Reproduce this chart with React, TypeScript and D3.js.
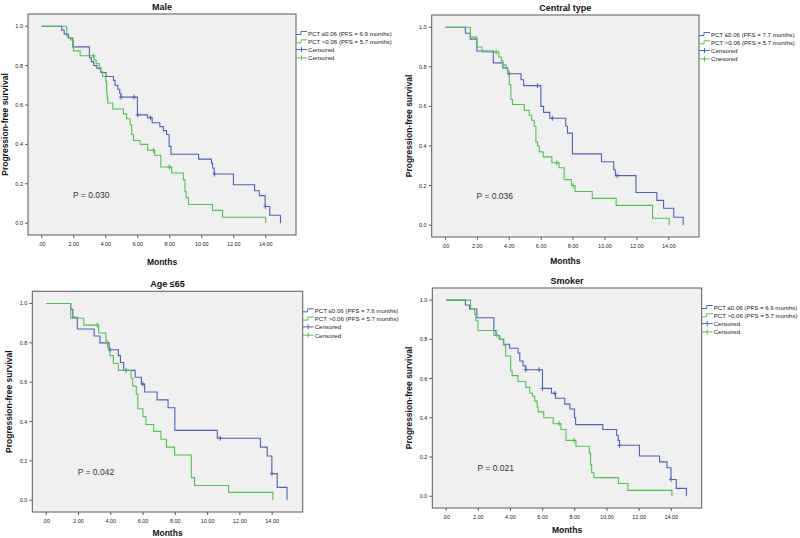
import React from 'react';
import * as d3 from 'd3';

type Pt = [number, number];

// axis ticks
const xTicks = [0, 2, 4, 6, 8, 10, 12, 14];
const yTicks = [0, 0.2, 0.4, 0.6, 0.8, 1.0];

const panelTitles = ['Male', 'Central type', 'Age ≤65', 'Smoker'];
const lowPfs = [6.9, 7.7, 7.6, 6.9];
const highPfs = [5.7, 5.7, 5.7, 5.7];
const pValues = ['0.030', '0.036', '0.042', '0.021'];
const greenCensorLabels = ['Censored', 'Cnesored', 'Censored', 'Censored'];

// Male: [months, survival] after each drop
const maleLow: Pt[] = [
  [1.25, 0.98], [1.4, 0.96], [1.65, 0.94], [1.94, 0.895], [2.98, 0.84], [3.1, 0.82], [3.25, 0.8],
  [3.45, 0.785], [3.69, 0.765], [4.02, 0.745], [4.48, 0.725], [4.58, 0.7], [4.75, 0.68], [4.87, 0.66],
  [4.95, 0.64], [5.98, 0.55], [6.6, 0.535], [6.9, 0.51], [7.38, 0.49], [7.6, 0.47], [7.8, 0.45],
  [7.96, 0.39], [8.08, 0.35], [9.8, 0.325], [10.6, 0.305], [10.68, 0.28], [10.77, 0.25], [11.98, 0.195],
  [13.3, 0.165], [13.6, 0.14], [13.96, 0.085], [14.25, 0.04], [14.92, 0.0],
];
const maleHigh: Pt[] = [
  [1.56, 0.95], [1.7, 0.94], [1.8, 0.93], [1.98, 0.875], [2.4, 0.85], [3.28, 0.83], [3.4, 0.81],
  [3.6, 0.79], [3.68, 0.77], [3.8, 0.745], [4.0, 0.72], [4.05, 0.67], [4.08, 0.64], [4.12, 0.61],
  [4.44, 0.58], [5.1, 0.555], [5.3, 0.53], [5.52, 0.5], [5.62, 0.45], [5.73, 0.42], [6.15, 0.4],
  [6.62, 0.37], [7.05, 0.345], [7.44, 0.285], [8.12, 0.255], [8.85, 0.22], [8.95, 0.16], [9.02, 0.13],
  [9.17, 0.095], [10.67, 0.065], [11.3, 0.03], [14.0, 0.0],
];
const maleLowCensor: Pt[] = [[4.95, 0.64], [5.77, 0.64], [6.0, 0.55], [6.8, 0.535], [10.8, 0.25], [13.98, 0.085]];
const maleHighCensor: Pt[] = [[3.23, 0.85], [6.98, 0.37], [7.98, 0.285]];

// Central type
const centralLow: Pt[] = [
  [1.25, 0.97], [1.56, 0.94], [1.97, 0.88], [3.0, 0.82], [3.6, 0.795], [3.9, 0.765], [4.74, 0.735],
  [4.9, 0.705], [5.98, 0.6], [6.15, 0.57], [6.54, 0.54], [7.54, 0.5], [7.65, 0.465], [7.96, 0.36],
  [9.78, 0.32], [10.55, 0.28], [10.65, 0.25], [11.94, 0.165], [13.25, 0.125], [13.67, 0.085],
  [14.31, 0.04], [14.9, 0.0],
];
const centralHigh: Pt[] = [
  [1.56, 0.95], [1.97, 0.9], [2.3, 0.875], [3.35, 0.85], [3.5, 0.83], [3.6, 0.81], [3.8, 0.79],
  [3.9, 0.765], [4.0, 0.71], [4.1, 0.635], [4.2, 0.61], [4.94, 0.58], [5.25, 0.555], [5.4, 0.53],
  [5.57, 0.5], [5.67, 0.42], [5.77, 0.4], [5.88, 0.37], [6.13, 0.345], [6.67, 0.315], [7.12, 0.29],
  [7.44, 0.23], [7.9, 0.2], [8.12, 0.17], [9.2, 0.135], [10.7, 0.1], [12.98, 0.035], [14.02, 0.0],
];
const centralLowCensor: Pt[] = [[4.0, 0.765], [5.77, 0.705], [6.7, 0.54], [10.76, 0.25]];
const centralHighCensor: Pt[] = [[3.18, 0.875], [6.98, 0.315], [8.0, 0.2]];

// Age <= 65
const ageLow: Pt[] = [
  [1.52, 0.97], [1.65, 0.93], [1.93, 0.87], [2.97, 0.835], [3.33, 0.8], [3.9, 0.765], [4.47, 0.735],
  [4.6, 0.7], [4.8, 0.66], [5.51, 0.625], [5.9, 0.59], [6.1, 0.55], [6.87, 0.51], [7.55, 0.47],
  [7.97, 0.355], [10.6, 0.315], [13.27, 0.27], [13.69, 0.225], [13.98, 0.135], [14.31, 0.065],
  [14.92, 0.0],
];
const ageHigh: Pt[] = [
  [1.52, 0.925], [2.33, 0.89], [3.25, 0.85], [3.7, 0.81], [3.8, 0.775], [3.95, 0.735], [4.16, 0.695],
  [4.47, 0.66], [5.26, 0.62], [5.36, 0.58], [5.58, 0.54], [5.68, 0.465], [5.99, 0.425], [6.18, 0.385],
  [6.66, 0.35], [7.11, 0.31], [7.45, 0.27], [7.95, 0.23], [8.99, 0.115], [9.19, 0.075], [11.3, 0.04],
  [14.04, 0.0],
];
const ageLowCensor: Pt[] = [[3.95, 0.765], [4.95, 0.66], [5.99, 0.59], [10.78, 0.315], [13.98, 0.135]];
const ageHighCensor: Pt[] = [[3.16, 0.89]];

// Smoker
const smokerLow: Pt[] = [
  [1.2, 0.975], [1.46, 0.955], [1.91, 0.91], [2.97, 0.845], [3.1, 0.82], [3.33, 0.8], [3.58, 0.775],
  [3.95, 0.755], [4.47, 0.73], [4.58, 0.69], [4.78, 0.665], [4.95, 0.645], [5.99, 0.55], [6.55, 0.525],
  [6.8, 0.5], [7.38, 0.47], [7.7, 0.445], [7.98, 0.4], [8.05, 0.365], [9.74, 0.34], [10.6, 0.31],
  [10.7, 0.285], [10.78, 0.26], [12.02, 0.205], [13.27, 0.175], [13.73, 0.145], [13.98, 0.085],
  [14.31, 0.04], [14.94, 0.0],
];
const smokerHigh: Pt[] = [
  [1.52, 0.955], [1.77, 0.93], [1.85, 0.895], [1.98, 0.845], [2.97, 0.82], [3.29, 0.8], [3.55, 0.77],
  [3.7, 0.715], [4.01, 0.64], [4.1, 0.615], [4.47, 0.585], [4.95, 0.555], [5.2, 0.525], [5.37, 0.51],
  [5.51, 0.485], [5.66, 0.455], [5.72, 0.43], [6.07, 0.4], [6.66, 0.37], [7.14, 0.34], [7.45, 0.285],
  [8.07, 0.255], [8.9, 0.22], [8.98, 0.16], [9.05, 0.12], [9.19, 0.095], [10.71, 0.065], [11.3, 0.03],
  [14.04, 0.0],
];
const smokerLowCensor: Pt[] = [[4.95, 0.645], [5.78, 0.645], [5.99, 0.55], [6.76, 0.525], [10.78, 0.26], [13.98, 0.085]];
const smokerHighCensor: Pt[] = [[3.16, 0.82], [7.03, 0.37], [7.95, 0.285]];

const BLUE = '#4f62b8';
const GREEN = '#4dc44d';
const FONT = '"Liberation Sans", Arial, sans-serif';

// layout of each plot frame
const frames = [
  { x: 28, y: 14, w: 268, h: 221, lab: 27, clip: 400 },
  { x: 431.7, y: 15, w: 267.3, h: 222, lab: 24, clip: 800 },
  { x: 32.3, y: 291.3, w: 270.4, h: 220.7, lab: 21, clip: 400 },
  { x: 432.3, y: 288, w: 269.4, h: 220, lab: 22, clip: 800 },
];

const lows = [maleLow, centralLow, ageLow, smokerLow];
const highs = [maleHigh, centralHigh, ageHigh, smokerHigh];
const lowCensors = [maleLowCensor, centralLowCensor, ageLowCensor, smokerLowCensor];
const highCensors = [maleHighCensor, centralHighCensor, ageHighCensor, smokerHighCensor];

const fmtX = (v: number) => (v === 0 ? '.00' : d3.format('.2f')(v));
const fmtY = d3.format('.1f');

function Panel({ i }: { i: number }) {
  const f = frames[i];
  const x = d3.scaleLinear().domain([-0.86, 15.89]).range([f.x, f.x + f.w]);
  const y = d3.scaleLinear().domain([-0.06, 1.062]).range([f.y + f.h, f.y]);
  const line = d3.line<Pt>().x(d => x(d[0])).y(d => y(d[1])).curve(d3.curveStepAfter);
  const start: Pt = [0, 1];

  const curves = [
    { pts: [start, ...lows[i]], cens: lowCensors[i], color: BLUE },
    { pts: [start, ...highs[i]], cens: highCensors[i], color: GREEN },
  ];

  const legend = [
    { kind: 'step', color: BLUE, text: `PCT ≤0.06 (PFS = ${lowPfs[i]} months)` },
    { kind: 'step', color: GREEN, text: `PCT >0.06 (PFS = ${highPfs[i]} months)` },
    { kind: 'cens', color: BLUE, text: 'Censored' },
    { kind: 'cens', color: GREEN, text: greenCensorLabels[i] },
  ];
  const lx = f.x + f.w;
  const bottom = f.y + f.h;

  return (
    <g clipPath={`url(#clip${i})`}>
      <defs>
        <clipPath id={`clip${i}`}>
          <rect x={f.clip - 400} y={0} width={400} height={538} />
        </clipPath>
      </defs>
      <text x={f.x + f.w / 2} y={f.y - 7} textAnchor="middle" dominantBaseline="central"
        fontSize={9} fontWeight="bold" fontFamily={FONT} fill="#111">{panelTitles[i]}</text>
      <rect x={f.x} y={f.y} width={f.w} height={f.h} fill="#f0f0f0" stroke="#5a5a5a" strokeWidth={1} />
      {yTicks.map(t => (
        <g key={`y${t}`}>
          <line x1={f.x - 3} x2={f.x} y1={y(t)} y2={y(t)} stroke="#5a5a5a" />
          <text x={f.x - 5} y={y(t)} textAnchor="end" dominantBaseline="central"
            fontSize={5.5} fontFamily={FONT} fill="#222">{fmtY(t)}</text>
        </g>
      ))}
      {xTicks.map(t => (
        <g key={`x${t}`}>
          <line x1={x(t)} x2={x(t)} y1={bottom} y2={bottom + 3} stroke="#5a5a5a" />
          <text x={x(t)} y={bottom + 8.5} textAnchor="middle" dominantBaseline="central"
            fontSize={5.5} fontFamily={FONT} fill="#222">{fmtX(t)}</text>
        </g>
      ))}
      <text transform={`translate(${f.x - 23},${f.y + f.h / 2}) rotate(-90)`} textAnchor="middle"
        dominantBaseline="central" fontSize={8.5} fontWeight="bold" fontFamily={FONT} fill="#111">
        Progression-free survival
      </text>
      <text x={f.x + f.w / 2} y={bottom + f.lab} textAnchor="middle" dominantBaseline="central"
        fontSize={8.5} fontWeight="bold" fontFamily={FONT} fill="#111">Months</text>
      {curves.map((c, k) => (
        <g key={k}>
          <path d={line(c.pts) ?? ''} fill="none" stroke={c.color} strokeWidth={1.1} />
          {c.cens.map((p, j) => (
            <path key={j}
              d={`M${x(p[0])},${y(p[1]) - 2.5}V${y(p[1]) + 2.5}M${x(p[0]) - 2},${y(p[1])}H${x(p[0]) + 2}`}
              stroke={c.color} strokeWidth={1} fill="none" />
          ))}
        </g>
      ))}
      <text x={x(1.95)} y={y(0.145)} dominantBaseline="central" fontSize={8.5} fontFamily={FONT}
        fill="#333">{`P = ${pValues[i]}`}</text>
      {legend.map((l, k) => {
        const ly = f.y + 19 + k * 8.3;
        const d = l.kind === 'step'
          ? `M${lx},${ly + 1.5}h5v-3h6`
          : `M${lx},${ly}h11M${lx + 5.5},${ly - 2.5}v5`;
        return (
          <g key={k}>
            <path d={d} stroke={l.color} strokeWidth={1} fill="none" />
            <text x={lx + 12} y={ly} dominantBaseline="central" fontSize={6.1} fontFamily={FONT}
              fill="#222">{l.text}</text>
          </g>
        );
      })}
    </g>
  );
}

export default function App() {
  return (
    <svg width={800} height={538} style={{ position: 'absolute', left: 0, top: 0, background: '#fff' }}>
      {frames.map((_, i) => <Panel key={i} i={i} />)}
    </svg>
  );
}
